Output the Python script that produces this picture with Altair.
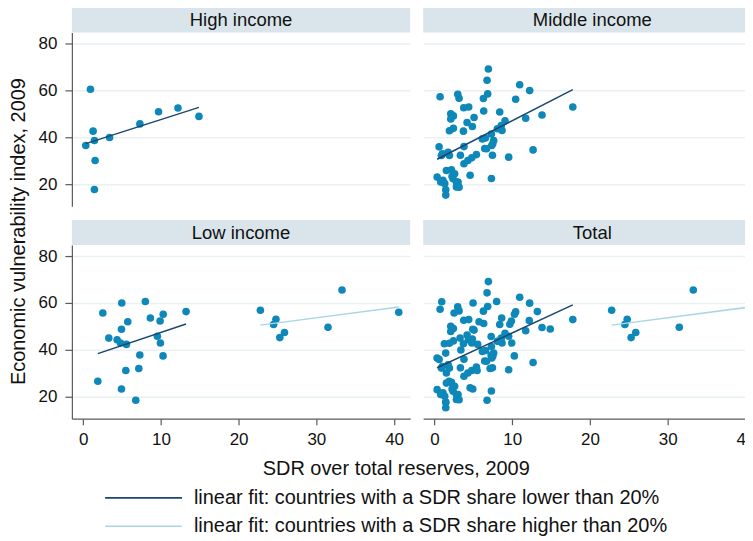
import altair as alt
import pandas as pd
import numpy as np

# ---------------- data ----------------
high_x = [0.94, 1.28, 1.45, 0.34, 1.54, 1.45, 3.4, 7.3, 9.7, 12.2, 14.9]
high_y = [60.5, 42.6, 38.6, 36.5, 30.1, 17.7, 39.9, 45.7, 50.9, 52.5, 48.9]

mid_x = [6.94, 6.77, 6.85, 6.3, 0.73, 3.0, 3.17,
         10.97, 12.25, 10.45, 17.8, 13.84, 11.74,
         8.4, 6.34, 3.77, 4.41, 2.1, 2.44, 2.1,
         5.1, 4.2, 4.88, 2.44, 1.93, 3.73,
         9.08, 8.6, 8.7, 8.1, 7.33, 6.56, 7.62, 7.37, 6.17,
         0.6, 1.03, 1.93, 3.8, 3.34, 6.47, 7.46, 9.55, 12.69,
         5.4, 4.8, 4.3, 3.8,
         7.33, 4.59, 1.54, 2.19, 2.6, 0.35, 1.1, 0.81, 1.33,
         1.46, 1.46, 2.4, 2.83, 2.83, 3.04, 3.17, 2.27,
         1.76, 0.9, 7.5, 6.7]
mid_y = [69.1, 64.3, 58.5, 56.5, 57.3, 58.3, 56.6,
         62.4, 59.9, 56.2, 52.9, 49.5, 48.1,
         50.8, 51.2, 52.6, 52.9, 50.0, 49.1, 47.8,
         48.4, 46.3, 44.6, 43.8, 42.8, 42.6,
         47.0, 45.0, 42.9, 43.6, 41.4, 39.7, 38.6, 36.5, 39.3,
         35.9, 32.9, 32.2, 36.0, 32.3, 35.2, 32.3, 31.5, 34.6,
         32.6, 31.2, 30.1, 28.7,
         22.4, 23.8, 25.8, 26.1, 24.4, 23.0, 21.6, 20.9, 20.2,
         17.6, 15.3, 22.3, 20.9, 18.8, 20.9, 18.7, 23.3,
         33.6, 32.2, 37.2, 35.1]

low_x = [2.53, 4.97, 8.0, 5.74, 8.65, 10.3, 9.9, 4.93, 3.3, 4.37, 4.8, 5.57,
         9.55, 9.94, 7.29, 10.28, 1.89, 5.49, 7.16, 4.93, 6.77, 13.24,
         22.8, 24.8, 24.5, 25.9, 25.3, 33.3, 31.5, 40.6]
low_y = [55.7, 60.0, 60.6, 52.0, 53.6, 55.2, 52.3, 48.8, 45.0, 44.3, 42.9, 42.3,
         45.8, 42.9, 37.8, 37.4, 26.6, 31.2, 32.0, 23.3, 18.5, 56.3,
         56.9, 53.0, 50.8, 47.4, 45.2, 65.5, 49.6, 56.0]

panels = ["High income", "Middle income", "Low income", "Total"]
x_ticks = [0, 10, 20, 30, 40]
y_ticks = [20, 40, 60, 80]
LOW_LBL = "linear fit: countries with a SDR share lower than 20%"
HIGH_LBL = "linear fit: countries with a SDR share higher than 20%"
X_TITLE = "SDR over total reserves, 2009"
Y_TITLE = "Economic vulnerability index, 2009"

# ---------------- build table ----------------
rows = []
for name, xs, ys in [("High income", high_x, high_y),
                     ("Middle income", mid_x, mid_y),
                     ("Low income", low_x, low_y)]:
    for xv, yv in zip(xs, ys):
        rows.append({"panel": name, "sdr": xv, "evi": yv})
df = pd.DataFrame(rows)
tot = df.copy()
tot["panel"] = "Total"
df = pd.concat([df, tot], ignore_index=True)
df["fit"] = np.where(df["sdr"] < 20, LOW_LBL, HIGH_LBL)

# ---------------- style ----------------
FONT = "Liberation Sans"
PT = "#0e87b9"
DARK = "#1a476f"
LIGHT = "#a9d6e6"
STRIP = "#dae5eb"
GRID = "#e9f1f3"
AX = "#5a5a5a"
TXT = "#111111"
W, H, SH = 339, 174, 25
XD = [-1.45, 42.07]
YD = [10.6, 84.7]

color_scale = alt.Scale(domain=[LOW_LBL, HIGH_LBL], range=[DARK, LIGHT])


def panel(name, col, row):
    sub = df[df["panel"] == name]
    xs = alt.Scale(domain=XD, nice=False, zero=False)
    ys = alt.Scale(domain=YD, nice=False, zero=False)
    if row == 1:
        xkw = dict(values=x_ticks, grid=False, domainColor=AX, domainWidth=1.2,
                   tickColor=AX, tickWidth=1.2, tickSize=6, labelFont=FONT,
                   labelFontSize=17, labelColor=TXT, labelPadding=7, labelFlush=False)
        if col == 0:
            xkw.update(title=X_TITLE, titleFont=FONT, titleFontSize=20,
                       titleFontWeight="normal", titleColor=TXT, titleX=324.5,
                       titleY=50, titleAlign="center", titleBaseline="middle")
            xenc = alt.X("sdr:Q", scale=xs, axis=alt.Axis(**xkw))
        else:
            xenc = alt.X("sdr:Q", scale=xs, axis=alt.Axis(**xkw), title=None)
    else:
        xenc = alt.X("sdr:Q", scale=xs, axis=None)

    if col == 0:
        ykw = dict(values=y_ticks, grid=True, gridColor=GRID, gridWidth=1.5,
                   domainColor=AX, domainWidth=1.2, tickColor=AX, tickWidth=1.2,
                   tickSize=7, labelFont=FONT, labelFontSize=17, labelColor=TXT,
                   labelPadding=8, labelFlush=False)
        if row == 1:
            ykw.update(title=Y_TITLE, titleFont=FONT, titleFontSize=20,
                       titleFontWeight="normal", titleColor=TXT, titleX=-53,
                       titleY=-14, titleAlign="center", titleBaseline="middle",
                       titleAngle=270)
            yenc = alt.Y("evi:Q", scale=ys, axis=alt.Axis(**ykw))
        else:
            yenc = alt.Y("evi:Q", scale=ys, axis=alt.Axis(**ykw), title=None)
    else:
        yenc = alt.Y("evi:Q", scale=ys,
                     axis=alt.Axis(values=y_ticks, grid=True, gridColor=GRID,
                                   gridWidth=1.5, labels=False, ticks=False,
                                   domain=False), title=None)

    base = alt.Chart(sub)
    pts = base.mark_circle(size=58, color=PT, opacity=1).encode(x=xenc, y=yenc)
    fit = base.transform_regression("sdr", "evi", groupby=["fit"]).mark_line(
        strokeWidth=1.5).encode(
        x=xenc, y=yenc,
        color=alt.Color("fit:N", scale=color_scale, legend=None))
    sdf = pd.DataFrame({"t": [name]})
    strip = alt.Chart(sdf).mark_rect(color=STRIP).encode(
        x=alt.value(0), x2=alt.value(W), y=alt.value(-SH), y2=alt.value(0))
    stext = alt.Chart(sdf).mark_text(font=FONT, fontSize=18.5, color=TXT,
                                     baseline="middle", align="center").encode(
        x=alt.value(W / 2), y=alt.value(-SH / 2), text="t:N")
    return alt.layer(pts, fit, strip, stext).properties(width=W, height=H)


leg_df = pd.DataFrame({"fit": [LOW_LBL, HIGH_LBL]})
leg_y = alt.Y("fit:N", axis=None, sort=[LOW_LBL, HIGH_LBL],
              scale=alt.Scale(type="point", domain=[LOW_LBL, HIGH_LBL],
                              range=[40.3, 68.7], padding=0))
leg_lines = alt.Chart(leg_df).mark_rule(strokeWidth=1.6).encode(
    x=alt.value(33.3), x2=alt.value(110.3), y=leg_y,
    color=alt.Color("fit:N", scale=color_scale, legend=None))
leg_text = alt.Chart(leg_df).mark_text(font=FONT, fontSize=20, color=TXT,
                                       align="left", baseline="middle").encode(
    x=alt.value(122.3), y=leg_y, text="fit:N")
legend = alt.layer(leg_lines, leg_text).properties(width=W, height=70)

chart = alt.concat(
    panel("High income", 0, 0), panel("Middle income", 1, 0),
    panel("Low income", 0, 1), panel("Total", 1, 1),
    legend,
    columns=2, spacing={"row": 39, "column": 13}, bounds="flush",
).properties(
    padding={"top": -1, "left": 0, "right": -16.5, "bottom": 0}
).configure_view(strokeWidth=0)

chart.save("out.html", embed_options={"renderer": "svg", "actions": False})
